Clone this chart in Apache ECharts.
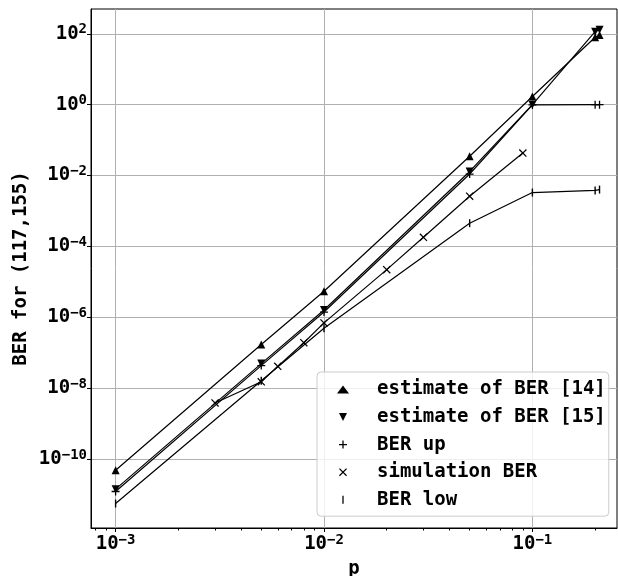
<!DOCTYPE html>
<html>
<head>
<meta charset="utf-8">
<script src="https://cdn.jsdelivr.net/npm/echarts@6/dist/echarts.min.js"></script>
<style>
  html, body { margin: 0; padding: 0; background: #fff; }
  #chart-container { width: 618px; height: 576px; }
</style>
</head>
<body>
<div id="chart-container"></div>
<script>
var dom = document.getElementById("chart-container");
var myChart = echarts.init(dom, null, { renderer: "canvas" });

const monoFont = "DejaVu Sans Mono";

// p values
var pEst = [0.001, 0.005, 0.01, 0.05, 0.1, 0.2, 0.21];
var pSim = [0.003, 0.005, 0.006, 0.008, 0.01, 0.02, 0.03, 0.05, 0.09];

// BER values
var berEst14 = [4.8e-11, 1.7e-7, 5.4e-6, 0.035, 1.7, 80, 92];
var berEst15 = [1.4e-11, 4.9e-8, 1.6e-6, 0.013, 1.0, 115, 130];
var berUp = [1.2e-11, 4.3e-8, 1.4e-6, 0.011, 0.98, 1.0, 1.0];
var berSim = [3.8e-9, 1.5e-8, 4.1e-8, 1.9e-7, 6.9e-7, 2.2e-5, 1.8e-4, 2.6e-3, 0.043];
var berLow = [5.5e-12, 1.6e-8, 4.9e-7, 4.5e-4, 3.3e-3, 3.8e-3, 4.0e-3];

var xTicks = [0.001, 0.01, 0.1];
var yTicks = [1e-10, 1e-8, 1e-6, 1e-4, 1e-2, 1, 100];

var seriesNames = [
  "estimate of BER [14]",
  "estimate of BER [15]",
  "BER up",
  "simulation BER",
  "BER low",
];

var triDown = "path://M0,0L10,0L5,10Z";
var plusMark = "path://M0,4.2L10,4.2L10,5.8L0,5.8Z M4.2,0L5.8,0L5.8,10L4.2,10Z";
var crossMark = "path://M0,1.1L1.1,0L10,8.9L8.9,10Z M8.9,0L10,1.1L1.1,10L0,8.9Z";
var barMark = "path://M0,0L1.6,0L1.6,10L0,10Z";

function pairs(xs, ys) {
  return xs.map(function (x, i) {
    return [x, ys[i]];
  });
}

function powLabel(v) {
  var e = Math.round(Math.log10(v));
  return "{b|10}{s|" + String(e).replace("-", "\u2212") + "}";
}

var labelRich = {
  b: { fontFamily: monoFont, fontWeight: "bold", fontSize: 19, lineHeight: 22, color: "#000" },
  s: { fontFamily: monoFont, fontWeight: "bold", fontSize: 14, lineHeight: 14, verticalAlign: "top", color: "#000" },
};

function lineSeries(name, xs, ys, symbol, size) {
  return {
    name: name,
    type: "line",
    data: pairs(xs, ys),
    symbol: symbol,
    symbolSize: size,
    showAllSymbol: true,
    color: "#000",
    itemStyle: { color: "#000" },
    lineStyle: { color: "#000", width: 1.2 },
  };
}

var option = {
  animation: false,
  backgroundColor: "#fff",
  grid: {
    left: 91,
    right: 1,
    top: 9,
    bottom: 48,
    containLabel: false,
    outerBoundsMode: "none",
    show: true,
    borderColor: "#000",
    borderWidth: 1,
    backgroundColor: "transparent",
  },
  legend: {
    orient: "vertical",
    left: 317,
    top: 372,
    selectedMode: false,
    backgroundColor: "rgba(255,255,255,0.8)",
    borderColor: "#cccccc",
    borderWidth: 1,
    borderRadius: 4,
    padding: [7.4, 3, 6.4, 20],
    itemWidth: 12,
    itemHeight: 8,
    itemGap: 7.6,
    textStyle: {
      fontFamily: monoFont,
      fontWeight: "bold",
      fontSize: 19,
      lineHeight: 20,
      color: "#000",
      padding: [0, 0, 0, 23],
    },
    data: [
      { name: seriesNames[0], icon: "triangle" },
      { name: seriesNames[1], icon: triDown },
      { name: seriesNames[2], icon: plusMark },
      { name: seriesNames[3], icon: crossMark },
      { name: seriesNames[4], icon: barMark },
    ],
  },
  xAxis: {
    type: "log",
    min: 0.000762,
    max: 0.2547,
    name: "p",
    nameLocation: "middle",
    nameGap: 32,
    nameTextStyle: { fontFamily: monoFont, fontWeight: "bold", fontSize: 19, color: "#000" },
    axisLine: { show: true, lineStyle: { color: "#000", width: 1 } },
    axisTick: { show: true, length: 4, lineStyle: { color: "#000" }, customValues: xTicks },
    minorTick: { show: true, splitNumber: 9, length: 2.5, lineStyle: { color: "#000" } },
    axisLabel: { margin: 5, formatter: powLabel, rich: labelRich, customValues: xTicks },
    splitLine: { show: true, lineStyle: { color: "#b0b0b0", width: 1 } },
  },
  yAxis: {
    type: "log",
    min: 1.12e-12,
    max: 501,
    name: "BER for (117,155)",
    nameLocation: "middle",
    nameGap: 60,
    nameMoveOverlap: false,
    nameTextStyle: { fontFamily: monoFont, fontWeight: "bold", fontSize: 19, color: "#000" },
    axisLine: { show: true, lineStyle: { color: "#000", width: 1 } },
    axisTick: { show: true, length: 4, lineStyle: { color: "#000" }, customValues: yTicks },
    axisLabel: { margin: 4, formatter: powLabel, rich: labelRich, customValues: yTicks },
    splitLine: { show: true, lineStyle: { color: "#b0b0b0", width: 1 } },
  },
  series: [
    lineSeries(seriesNames[0], pEst, berEst14, "triangle", 8),
    lineSeries(seriesNames[1], pEst, berEst15, triDown, 8),
    lineSeries(seriesNames[2], pEst, berUp, plusMark, 8),
    lineSeries(seriesNames[3], pSim, berSim, crossMark, 8),
    lineSeries(seriesNames[4], pEst, berLow, barMark, [1.4, 8]),
  ],
};

myChart.setOption(option);
window.addEventListener("resize", myChart.resize);
</script>
</body>
</html>
